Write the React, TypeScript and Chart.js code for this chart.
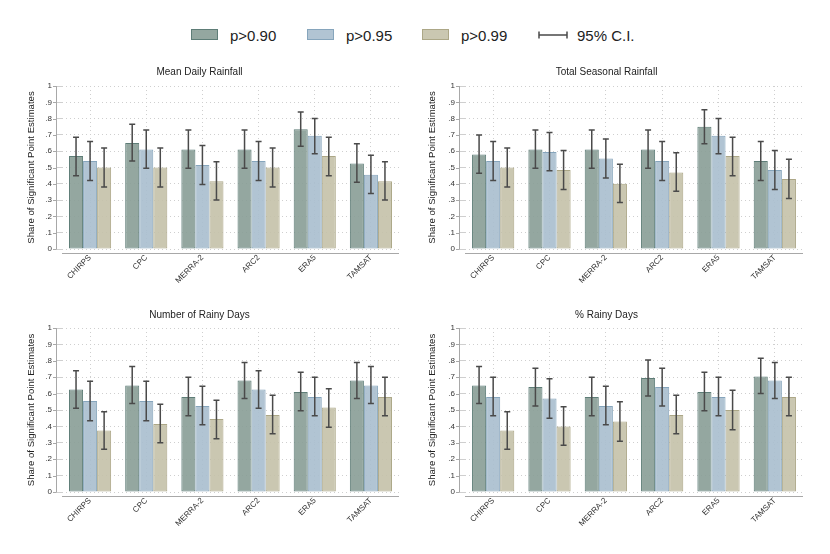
import React, { useEffect, useRef } from "react";
import { Chart, registerables } from "chart.js";

Chart.register(...registerables);

const FONT = '"Liberation Sans", Arial, Helvetica, sans-serif';

const categories = ["CHIRPS", "CPC", "MERRA-2", "ARC2", "ERA5", "TAMSAT"];
const seriesLabels = ["p>0.90", "p>0.95", "p>0.99"];
const yTickValues = [0, 0.1, 0.2, 0.3, 0.4, 0.5, 0.6, 0.7, 0.8, 0.9, 1];
const panelTitles = ["Mean Daily Rainfall", "Total Seasonal Rainfall", "Number of Rainy Days", "% Rainy Days"];
const yAxisTitle = "Share of Significant Point Estimates";

// Mean Daily Rainfall
const mdr90 = [0.57, 0.65, 0.61, 0.61, 0.735, 0.525];
const mdr90Lo = [0.45, 0.54, 0.495, 0.495, 0.63, 0.41];
const mdr90Hi = [0.685, 0.765, 0.73, 0.73, 0.84, 0.645];
const mdr95 = [0.54, 0.61, 0.515, 0.54, 0.695, 0.455];
const mdr95Lo = [0.42, 0.495, 0.395, 0.42, 0.585, 0.34];
const mdr95Hi = [0.66, 0.73, 0.635, 0.66, 0.8, 0.575];
const mdr99 = [0.5, 0.5, 0.415, 0.5, 0.57, 0.415];
const mdr99Lo = [0.38, 0.38, 0.3, 0.38, 0.45, 0.3];
const mdr99Hi = [0.62, 0.62, 0.535, 0.62, 0.685, 0.535];

// Total Seasonal Rainfall
const tsr90 = [0.58, 0.61, 0.61, 0.61, 0.75, 0.54];
const tsr90Lo = [0.465, 0.495, 0.495, 0.495, 0.645, 0.42];
const tsr90Hi = [0.7, 0.73, 0.73, 0.73, 0.855, 0.66];
const tsr95 = [0.54, 0.595, 0.555, 0.54, 0.695, 0.485];
const tsr95Lo = [0.42, 0.48, 0.435, 0.42, 0.585, 0.365];
const tsr95Hi = [0.66, 0.715, 0.675, 0.66, 0.8, 0.605];
const tsr99 = [0.5, 0.485, 0.4, 0.47, 0.57, 0.43];
const tsr99Lo = [0.38, 0.365, 0.285, 0.355, 0.45, 0.31];
const tsr99Hi = [0.62, 0.605, 0.52, 0.59, 0.685, 0.55];

// Number of Rainy Days
const nrd90 = [0.625, 0.65, 0.58, 0.68, 0.61, 0.68];
const nrd90Lo = [0.51, 0.54, 0.465, 0.57, 0.495, 0.57];
const nrd90Hi = [0.74, 0.765, 0.7, 0.79, 0.73, 0.79];
const nrd95 = [0.555, 0.555, 0.525, 0.625, 0.58, 0.65];
const nrd95Lo = [0.435, 0.435, 0.41, 0.51, 0.465, 0.54];
const nrd95Hi = [0.675, 0.675, 0.645, 0.74, 0.7, 0.765];
const nrd99 = [0.375, 0.415, 0.445, 0.47, 0.515, 0.58];
const nrd99Lo = [0.26, 0.3, 0.325, 0.355, 0.395, 0.465];
const nrd99Hi = [0.49, 0.535, 0.56, 0.59, 0.63, 0.7];

// % Rainy Days
const prd90 = [0.65, 0.64, 0.58, 0.695, 0.61, 0.705];
const prd90Lo = [0.54, 0.525, 0.465, 0.585, 0.495, 0.6];
const prd90Hi = [0.765, 0.755, 0.7, 0.805, 0.73, 0.815];
const prd95 = [0.58, 0.57, 0.525, 0.64, 0.58, 0.68];
const prd95Lo = [0.465, 0.45, 0.41, 0.525, 0.465, 0.57];
const prd95Hi = [0.7, 0.69, 0.645, 0.755, 0.7, 0.79];
const prd99 = [0.375, 0.4, 0.43, 0.47, 0.5, 0.58];
const prd99Lo = [0.26, 0.285, 0.31, 0.355, 0.38, 0.465];
const prd99Hi = [0.49, 0.52, 0.55, 0.59, 0.62, 0.7];

const fills = ["rgba(136,157,150,0.9)", "rgba(168,190,206,0.9)", "rgba(196,193,168,0.9)"];
const borders = ["#5e7d77", "#86a5bc", "#aca787"];
const CI_COLOR = "#4a4a4a";

const panelData = [
  [[mdr90, mdr90Lo, mdr90Hi], [mdr95, mdr95Lo, mdr95Hi], [mdr99, mdr99Lo, mdr99Hi]],
  [[tsr90, tsr90Lo, tsr90Hi], [tsr95, tsr95Lo, tsr95Hi], [tsr99, tsr99Lo, tsr99Hi]],
  [[nrd90, nrd90Lo, nrd90Hi], [nrd95, nrd95Lo, nrd95Hi], [nrd99, nrd99Lo, nrd99Hi]],
  [[prd90, prd90Lo, prd90Hi], [prd95, prd95Lo, prd95Hi], [prd99, prd99Lo, prd99Hi]],
];

// layout of each panel canvas
const panels = [
  { left: 0, top: 60, width: 410, height: 240, yWidth: 62, xHeight: 51, padRight: 11, titleTop: 6, titleBottom: 8, yTitlePad: 26 },
  { left: 410, top: 60, width: 420, height: 240, yWidth: 55, xHeight: 51, padRight: 27, titleTop: 6, titleBottom: 8, yTitlePad: 17 },
  { left: 0, top: 300, width: 410, height: 254, yWidth: 62, xHeight: 62, padRight: 11, titleTop: 9, titleBottom: 7, yTitlePad: 26 },
  { left: 410, top: 300, width: 420, height: 254, yWidth: 55, xHeight: 62, padRight: 27, titleTop: 9, titleBottom: 7, yTitlePad: 17 },
];

const errorBarPlugin = {
  id: "errorBars",
  afterDatasetsDraw(chart: any) {
    const ctx = chart.ctx;
    const ys = chart.scales.y;
    chart.data.datasets.forEach((ds: any, i: number) => {
      const meta = chart.getDatasetMeta(i);
      meta.data.forEach((bar: any, j: number) => {
        const x = bar.x;
        const y1 = ys.getPixelForValue(ds.errLo[j]);
        const y2 = ys.getPixelForValue(ds.errHi[j]);
        ctx.save();
        ctx.strokeStyle = CI_COLOR;
        ctx.lineWidth = 1.5;
        ctx.beginPath();
        ctx.moveTo(x, y1);
        ctx.lineTo(x, y2);
        ctx.moveTo(x - 3, y1);
        ctx.lineTo(x + 3, y1);
        ctx.moveTo(x - 3, y2);
        ctx.lineTo(x + 3, y2);
        ctx.stroke();
        ctx.restore();
      });
    });
  },
};

const axesPlugin = {
  id: "stataAxes",
  beforeDatasetsDraw(chart: any) {
    const { ctx, chartArea } = chart;
    const ys = chart.scales.y;
    const ax = chartArea.left - 6;
    ctx.save();
    ctx.strokeStyle = "#a8a8a8";
    ctx.lineWidth = 1;
    ctx.beginPath();
    ctx.moveTo(ax + 0.5, ys.getPixelForValue(0));
    ctx.lineTo(ax + 0.5, ys.getPixelForValue(1));
    yTickValues.forEach((v) => {
      const py = Math.round(ys.getPixelForValue(v)) + 0.5;
      ctx.moveTo(ax - 3, py);
      ctx.lineTo(ax + 0.5, py);
    });
    const by = Math.round(chartArea.bottom + 4) + 0.5;
    ctx.moveTo(chartArea.left, by);
    ctx.lineTo(chartArea.right, by);
    ctx.stroke();
    ctx.restore();
  },
};

function Panel({ idx }: { idx: number }) {
  const ref = useRef<HTMLCanvasElement | null>(null);
  const p = panels[idx];
  useEffect(() => {
    if (!ref.current) return;
    const datasets = panelData[idx].map((s, k) => ({
      label: seriesLabels[k],
      data: s[0],
      errLo: s[1],
      errHi: s[2],
      backgroundColor: fills[k],
      borderColor: borders[k],
      borderWidth: 1,
      borderSkipped: false,
      categoryPercentage: 0.75,
      barPercentage: 1.0,
    }));
    const chart = new Chart(ref.current, {
      type: "bar",
      data: { labels: categories, datasets: datasets as any },
      plugins: [axesPlugin, errorBarPlugin],
      options: {
        animation: false,
        responsive: false,
        devicePixelRatio: 1,
        layout: { padding: { left: 0, right: p.padRight, top: 0, bottom: 0 } },
        plugins: {
          legend: { display: false },
          tooltip: { enabled: false },
          title: {
            display: true,
            text: panelTitles[idx],
            color: "#222",
            font: { family: FONT, size: 10, weight: "normal" as any },
            padding: { top: p.titleTop, bottom: p.titleBottom },
          },
        },
        scales: {
          x: {
            afterFit: (s: any) => {
              s.height = p.xHeight;
            },
            grid: {
              offset: false,
              drawTicks: false,
              color: "#cfcfcf",
              lineWidth: 1,
            },
            border: { display: false, dash: [1, 3] },
            ticks: {
              font: { family: FONT, size: 8 },
              color: "#333",
              minRotation: 45,
              maxRotation: 45,
              autoSkip: false,
              padding: 4,
            },
          },
          y: {
            min: 0,
            max: 1,
            afterFit: (s: any) => {
              s.width = p.yWidth;
            },
            afterBuildTicks: (s: any) => {
              s.ticks = yTickValues.map((v) => ({ value: v }));
            },
            grid: {
              color: "#cfcfcf",
              lineWidth: 1,
              drawTicks: true,
              tickLength: 6,
            },
            border: { display: false, dash: [1, 3] },
            ticks: {
              font: { family: FONT, size: 8 },
              color: "#333",
              padding: 4,
              callback: (v: any) => {
                const n = Number(v);
                if (n === 0) return "0";
                if (Math.abs(n - 1) < 1e-9) return "1";
                return n.toFixed(1).replace(/^0/, "");
              },
            },
            title: {
              display: true,
              text: yAxisTitle,
              color: "#222",
              font: { family: FONT, size: 9.6 },
              padding: { top: p.yTitlePad, bottom: 0 },
            },
          },
        },
      } as any,
    });
    return () => chart.destroy();
  }, [idx]);
  return (
    <canvas
      ref={ref}
      width={p.width}
      height={p.height}
      style={{ position: "absolute", left: p.left, top: p.top, width: p.width, height: p.height }}
    />
  );
}

function LegendItem({ x, label, k }: { x: number; label: string; k: number }) {
  return (
    <>
      <div
        style={{
          position: "absolute",
          left: x,
          top: 29,
          width: 27,
          height: 11,
          boxSizing: "border-box",
          background: fills[k],
          border: `1px solid ${borders[k]}`,
        }}
      />
      <div style={{ position: "absolute", left: x + 39, top: 35, transform: "translateY(-50%)", font: `15px ${FONT}`, color: "#222", lineHeight: "17px", whiteSpace: "nowrap" }}>
        {label}
      </div>
    </>
  );
}

export default function App() {
  return (
    <div style={{ position: "absolute", left: 0, top: 0, width: 830, height: 554, background: "#fff", overflow: "hidden" }}>
      <LegendItem x={191} label={seriesLabels[0]} k={0} />
      <LegendItem x={307} label={seriesLabels[1]} k={1} />
      <LegendItem x={422} label={seriesLabels[2]} k={2} />
      <svg style={{ position: "absolute", left: 537, top: 29 }} width={32} height={12}>
        <path d="M2 6 H30 M2 2.5 V9.5 M30 2.5 V9.5" stroke={CI_COLOR} strokeWidth={1.5} fill="none" />
      </svg>
      <div style={{ position: "absolute", left: 577, top: 35, transform: "translateY(-50%)", font: `15px ${FONT}`, color: "#222", lineHeight: "17px", whiteSpace: "nowrap" }}>
        95% C.I.
      </div>
      {panels.map((_, i) => (
        <Panel key={i} idx={i} />
      ))}
    </div>
  );
}
